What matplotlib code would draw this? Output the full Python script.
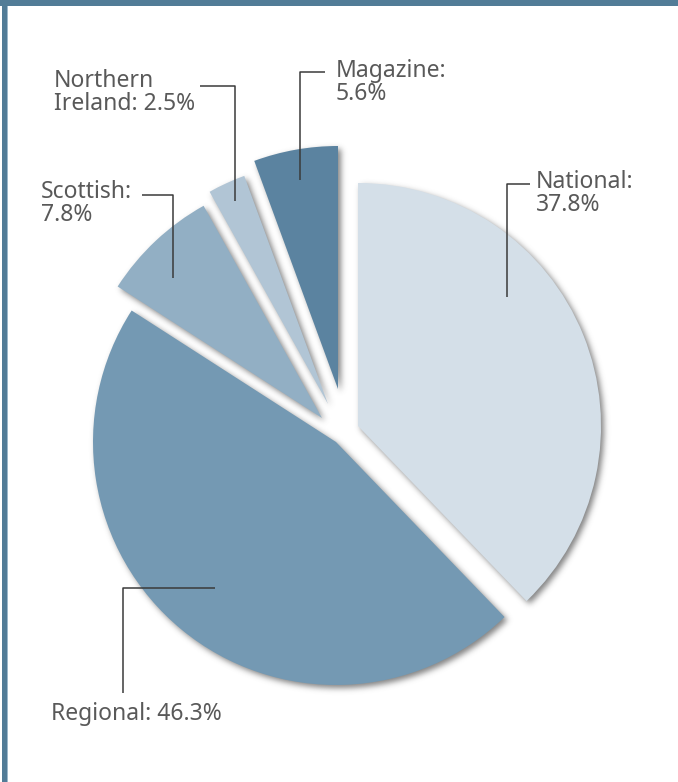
import numpy as np
import matplotlib
matplotlib.use("Agg")
from matplotlib import pyplot as plt
from matplotlib.patches import Wedge, Rectangle

W, H, DPI = 678, 782, 100

labels = ["National", "Regional", "Scottish", "Northern\nIreland", "Magazine"]
shares = [37.8, 46.3, 7.8, 2.5, 5.6]
colors = ["#d4dfe8", "#7499b3", "#92afc4", "#b1c5d5", "#5b83a0"]

# pie centre and radius in pixels (y measured from the top)
CX, CY, RAD = 346, 430, 243
# how far each slice is pulled away from the centre (dx, dy in pixels, y down)
offsets = [(12, -4), (-10, 12), (-24, -12), (-18, -26), (-8, -41)]

# leader lines: anchor (angle from slice tip, fraction of radius), elbow y, end x
leaders = {
    "National": (41.0, 0.81, 184, 530),
    "Magazine": (100.3, 0.875, 72, 325),
    "Northern\nIreland": (114.5, 0.92, 86, 200),
    "Scottish": (136.8, 0.84, 195, 142),
}
text_pos = {
    "National": (536, 170),
    "Magazine": (336, 59),
    "Northern\nIreland": (54, 69),
    "Scottish": (41, 180),
    "Regional": (51, 702),
}


def Y(y):
    return H - y


plt.rcParams["font.family"] = ["Noto Sans", "DejaVu Sans"]
fig = plt.figure(figsize=(W / DPI, H / DPI), dpi=DPI)
ax = fig.add_axes([0, 0, 1, 1])

wedges, _ = ax.pie(shares, colors=colors, startangle=90, counterclock=False,
                   radius=RAD, center=(CX, Y(CY)),
                   wedgeprops=dict(linewidth=0), frame=True)
ax.set_xlim(0, W)
ax.set_ylim(0, H)
ax.set_aspect("equal")
ax.axis("off")
for w, (dx, dy) in zip(wedges, offsets):
    w.set_center((CX + dx, Y(CY + dy)))
    w.set_zorder(3)

# soft drop shadow: render the slices as a mask, blur it and lay it underneath
sf = plt.figure(figsize=(W / DPI, H / DPI), dpi=DPI)
sa = sf.add_axes([0, 0, 1, 1])
sa.set_xlim(0, W)
sa.set_ylim(0, H)
sa.axis("off")
for w in wedges:
    sa.add_patch(Wedge(w.center, w.r, w.theta1, w.theta2, fc="k", ec="none"))
sf.canvas.draw()
mask = 1 - np.asarray(sf.canvas.buffer_rgba())[..., 0] / 255.0
plt.close(sf)

sigma = 3.0
k = np.arange(-10, 11)
kern = np.exp(-k ** 2 / (2 * sigma ** 2))
kern /= kern.sum()
blur = np.apply_along_axis(lambda r: np.convolve(r, kern, mode="same"), 1, mask)
blur = np.apply_along_axis(lambda c: np.convolve(c, kern, mode="same"), 0, blur)
blur = np.roll(blur, (3, 3), axis=(0, 1))
shadow = np.zeros((H, W, 4))
shadow[..., :3] = 0.35
shadow[..., 3] = np.clip(blur * 0.75, 0, 1)
ax.imshow(shadow, extent=(0, W, 0, H), origin="upper", zorder=2,
          interpolation="bilinear", aspect="auto")

txt = dict(fontsize=16.5, color="#595959", va="top", ha="left",
           linespacing=0.92, fontweight="light")
line = dict(color="#3a3a3a", lw=1.1, zorder=5, solid_capstyle="butt")

for w, name, val in zip(wedges, labels, shares):
    tx, ty = text_pos[name]
    if name in ("Northern\nIreland", "Regional"):
        s = f"{name}: {val}%"
    else:
        s = f"{name}:\n{val}%"
    ax.text(tx, Y(ty), s, zorder=6, **txt)
    if name in leaders:
        ang, frac, ey, ex = leaders[name]
        a = np.deg2rad(ang)
        px = w.center[0] + frac * w.r * np.cos(a)
        py = w.center[1] + frac * w.r * np.sin(a)
        ax.plot([px, px, ex], [py, Y(ey), Y(ey)], **line)

# regional leader runs left first, then down to its label
reg = wedges[1]
a = np.deg2rad(-129.8)
px = reg.center[0] + 0.78 * reg.r * np.cos(a)
py = reg.center[1] + 0.78 * reg.r * np.sin(a)
ax.plot([px, 123, 123], [py, py, Y(693)], **line)

# frame along the top and left edges
ax.add_patch(Rectangle((0, Y(6)), W, 6, fc="#527c97", ec="none", zorder=7))
ax.add_patch(Rectangle((2, 0), 5, H, fc="#527c97", ec="none", zorder=7))
ax.add_patch(Rectangle((7, 0), 1, Y(6), fc="#9db8cb", ec="none", zorder=7))

fig.savefig("out.png", dpi=DPI, facecolor="white")
